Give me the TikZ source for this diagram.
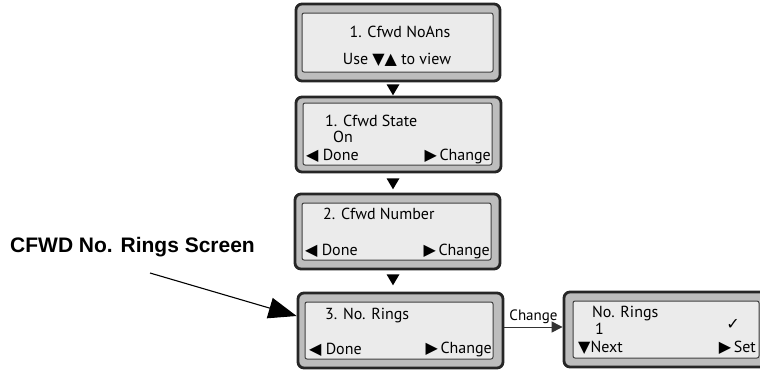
\documentclass[tikz,border=0pt]{standalone}
\usepackage{fontspec}
\setmainfont{PT Sans}
\newfontfamily\symfont{DejaVu Sans}
\newfontfamily\labfont{Liberation Sans}
\usetikzlibrary{arrows.meta,shapes.geometric,calc}
\newcommand{\tl}{{\symfont\raisebox{-0.5pt}{◀}}}
\newcommand{\tr}{{\symfont\raisebox{-0.5pt}{▶}}}
\newcommand{\td}{{\symfont\raisebox{-0.5pt}{▼}}}
\newcommand{\tu}{{\symfont\raisebox{-0.5pt}{▲}}}
\begin{document}
\begin{tikzpicture}[x=1pt,y=-1pt,
  outerbox/.style={draw=black!85, line width=2.8pt, fill=black!26, rounded corners=6pt, inner sep=0pt},
  innerbox/.style={draw=black!75, line width=1pt, fill=black!8, rounded corners=2pt, inner sep=0pt},
  txt/.style={inner sep=0pt, font=\fontsize{16}{18}\selectfont, text height=11.5pt, text depth=3.5pt},
  downtri/.style={isosceles triangle, shape border rotate=270, fill=black, inner sep=0pt, minimum height=11pt, minimum width=13pt, isosceles triangle stretches},
  conn/.style={draw=black!80, line width=1pt, -{Triangle[length=11pt,width=11pt]}}
]
\useasboundingbox (0,0) rectangle (760,370);
\clip (0,0) rectangle (760,370);
\fill[white] (0,0) rectangle (760,370);

% screens
\node[outerbox, minimum width=204pt, minimum height=77pt] (s1) at (398,42.5) {};
\node[innerbox, minimum width=191pt, minimum height=59pt] (i1) at (397.5,42.5) {};
\node[outerbox, minimum width=205pt, minimum height=75pt] (s2) at (398.5,134.5) {};
\node[innerbox, minimum width=189pt, minimum height=62pt] (i2) at (397.5,134) {};
\node[outerbox, minimum width=205pt, minimum height=75pt] (s3) at (397.5,231.5) {};
\node[innerbox, minimum width=189pt, minimum height=57pt] (i3) at (396.5,231.5) {};
\node[outerbox, minimum width=205pt, minimum height=75pt] (s4) at (400.5,330.5) {};
\node[innerbox, minimum width=188pt, minimum height=57pt] (i4) at (399,330.5) {};
\node[outerbox, minimum width=204pt, minimum height=75pt] (s5) at (666,329.5) {};
\node[innerbox, minimum width=186pt, minimum height=57pt] (i5) at (666,329.5) {};

% down triangles
\node[downtri] (d1) at (393,88) {};
\node[downtri] (d2) at (393,182) {};
\node[downtri] (d3) at (393,278) {};

% texts screen 1
\node[txt] (t11) at (400,33) {1. Cfwd NoAns};
\node[txt] (t12) at (397,60) {Use \td\tu{} to view};
% screen 2
\node[txt, anchor=west] (t21) at (325,122) {1. Cfwd State};
\node[txt, anchor=west] (t22) at (333,138) {On};
\node[txt, anchor=west] (t23) at (306,156) {\tl\ Done};
\node[txt, anchor=east] (t24) at (491,156) {\tr\,Change};
% screen 3
\node[txt, anchor=west] (t31) at (323,215) {2. Cfwd Number};
\node[txt, anchor=west] (t32) at (305,251) {\tl\ Done};
\node[txt, anchor=east] (t33) at (490,251) {\tr\,Change};
% screen 4
\node[txt, anchor=west] (t41) at (325,315) {3. No. Rings};
\node[txt, anchor=west] (t42) at (309,350) {\tl\ Done};
\node[txt, anchor=east] (t43) at (492,349) {\tr\,Change};
% screen 5
\node[txt, anchor=west] (t51) at (592,313) {No. Rings};
\node[txt, anchor=west] (t52) at (595,330) {1};
\node[txt] (t53) at (733,325) {{\symfont ✓}};
\node[txt, anchor=west] (t54) at (578,348) {\td Next};
\node[txt, anchor=east] (t55) at (756,348) {\tr\,Set};

% change connector
\draw[conn] (s4.east |- 0,327) -- (s5.west |- 0,327) node[midway, above=3pt, txt, font=\fontsize{15}{17}\selectfont] (chg) {Change};

% label
\node[inner sep=0pt, anchor=west, font=\labfont\bfseries\fontsize{21}{24}\selectfont] (lab) at (10,247) {CFWD No. Rings Screen};
\coordinate (a0) at (150,273);
\draw[line width=1.1pt, -{Triangle[length=28pt,width=21pt]}] (a0) -- (s4.west |- 0,316);
\end{tikzpicture}
\end{document}
